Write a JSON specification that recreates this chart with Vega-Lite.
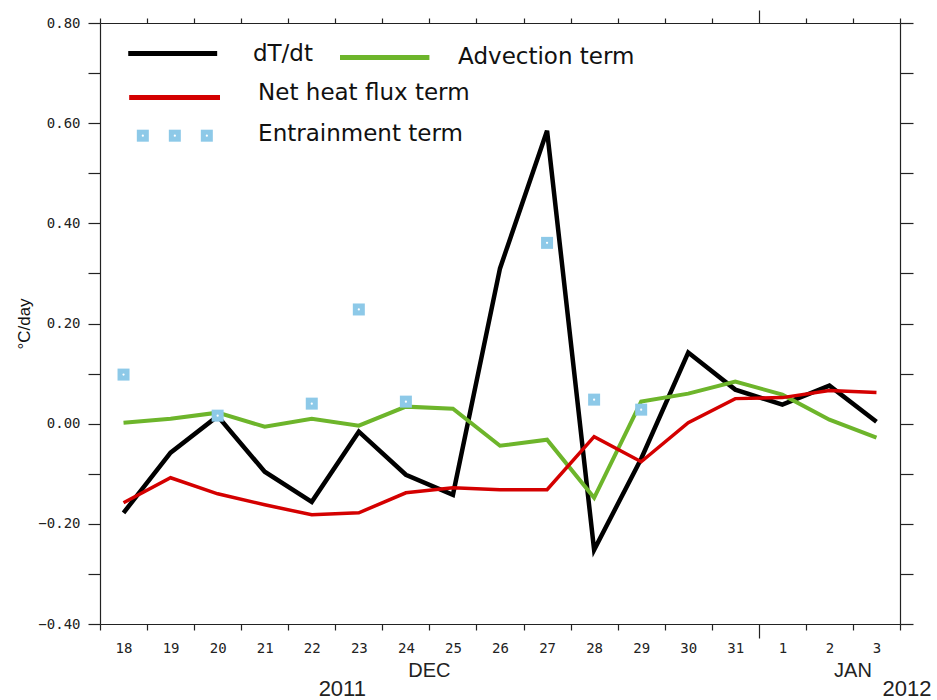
{
  "$schema": "https://vega.github.io/schema/vega-lite/v6.json",
  "width": 800,
  "height": 601,
  "autosize": "none",
  "padding": {"left": 100, "top": 23, "right": 37, "bottom": 76},
  "background": "white",
  "config": {
    "view": {"stroke": null},
    "axis": {"grid": false, "domainColor": "#222", "tickColor": "#222", "domainWidth": 1.2, "tickWidth": 1.2, "labelColor": "#222", "labelOverlap": false}
  },
  "datasets": {
    "terms": [
      {"day": "18", "series": "dT/dt", "value": -0.178},
      {"day": "19", "series": "dT/dt", "value": -0.058},
      {"day": "20", "series": "dT/dt", "value": 0.015},
      {"day": "21", "series": "dT/dt", "value": -0.096},
      {"day": "22", "series": "dT/dt", "value": -0.156},
      {"day": "23", "series": "dT/dt", "value": -0.016},
      {"day": "24", "series": "dT/dt", "value": -0.102},
      {"day": "25", "series": "dT/dt", "value": -0.142},
      {"day": "26", "series": "dT/dt", "value": 0.31},
      {"day": "27", "series": "dT/dt", "value": 0.585},
      {"day": "28", "series": "dT/dt", "value": -0.252},
      {"day": "29", "series": "dT/dt", "value": -0.07},
      {"day": "30", "series": "dT/dt", "value": 0.142},
      {"day": "31", "series": "dT/dt", "value": 0.068},
      {"day": "1", "series": "dT/dt", "value": 0.038},
      {"day": "2", "series": "dT/dt", "value": 0.076},
      {"day": "3", "series": "dT/dt", "value": 0.004},
      {"day": "18", "series": "Advection term", "value": 0.002},
      {"day": "19", "series": "Advection term", "value": 0.01},
      {"day": "20", "series": "Advection term", "value": 0.022},
      {"day": "21", "series": "Advection term", "value": -0.006},
      {"day": "22", "series": "Advection term", "value": 0.01},
      {"day": "23", "series": "Advection term", "value": -0.004},
      {"day": "24", "series": "Advection term", "value": 0.034},
      {"day": "25", "series": "Advection term", "value": 0.03},
      {"day": "26", "series": "Advection term", "value": -0.044},
      {"day": "27", "series": "Advection term", "value": -0.032},
      {"day": "28", "series": "Advection term", "value": -0.148},
      {"day": "29", "series": "Advection term", "value": 0.044},
      {"day": "30", "series": "Advection term", "value": 0.06},
      {"day": "31", "series": "Advection term", "value": 0.084},
      {"day": "1", "series": "Advection term", "value": 0.058},
      {"day": "2", "series": "Advection term", "value": 0.008},
      {"day": "3", "series": "Advection term", "value": -0.028},
      {"day": "18", "series": "Net heat flux term", "value": -0.158},
      {"day": "19", "series": "Net heat flux term", "value": -0.108},
      {"day": "20", "series": "Net heat flux term", "value": -0.14},
      {"day": "21", "series": "Net heat flux term", "value": -0.162},
      {"day": "22", "series": "Net heat flux term", "value": -0.182},
      {"day": "23", "series": "Net heat flux term", "value": -0.178},
      {"day": "24", "series": "Net heat flux term", "value": -0.138},
      {"day": "25", "series": "Net heat flux term", "value": -0.128},
      {"day": "26", "series": "Net heat flux term", "value": -0.132},
      {"day": "27", "series": "Net heat flux term", "value": -0.132},
      {"day": "28", "series": "Net heat flux term", "value": -0.026},
      {"day": "29", "series": "Net heat flux term", "value": -0.076},
      {"day": "30", "series": "Net heat flux term", "value": 0.002},
      {"day": "31", "series": "Net heat flux term", "value": 0.05},
      {"day": "1", "series": "Net heat flux term", "value": 0.052},
      {"day": "2", "series": "Net heat flux term", "value": 0.066},
      {"day": "3", "series": "Net heat flux term", "value": 0.062}
    ],
    "entrain": [
      {"day": "18", "value": 0.098},
      {"day": "20", "value": 0.016},
      {"day": "22", "value": 0.04},
      {"day": "23", "value": 0.228},
      {"day": "24", "value": 0.044},
      {"day": "27", "value": 0.361},
      {"day": "28", "value": 0.048},
      {"day": "29", "value": 0.028}
    ],
    "months": [
      {"label": "DEC", "day": "25"},
      {"label": "JAN", "day": "3"}
    ],
    "years": [
      {"label": "2011", "day": "22"},
      {"label": "2012", "day": "3"}
    ],
    "legendLines": [
      {"series": "dT/dt", "x": 0.6, "x2": 2.49, "y": 0.739},
      {"series": "Advection term", "x": 5.1, "x2": 7.0, "y": 0.731},
      {"series": "Net heat flux term", "x": 0.62, "x2": 2.55, "y": 0.651}
    ],
    "legendMarkers": [
      {"x": 0.91, "y": 0.575},
      {"x": 1.59, "y": 0.575},
      {"x": 2.27, "y": 0.575}
    ],
    "legendText": [
      {"label": "dT/dt", "x": 3.25, "y": 0.725},
      {"label": "Advection term", "x": 7.61, "y": 0.719},
      {"label": "Net heat flux term", "x": 3.36, "y": 0.647},
      {"label": "Entrainment term", "x": 3.36, "y": 0.565}
    ]
  },
  "layer": [
    {
      "layer": [
        {
          "data": {"name": "terms"},
          "mark": {"type": "line", "strokeJoin": "miter", "strokeCap": "butt"},
          "encoding": {
            "x": {
              "field": "day", "type": "ordinal", "bandPosition": 0.5,
              "scale": {"type": "band", "domain": ["18","19","20","21","22","23","24","25","26","27","28","29","30","31","1","2","3"], "paddingInner": 0, "paddingOuter": 0},
              "axis": {
                "orient": "bottom", "title": null, "tickBand": "extent", "labelAngle": 0,
                "tickSize": {"condition": {"test": "datum.value === '31'", "value": 14}, "value": 6},
                "labelPadding": {"condition": {"test": "datum.value === '31'", "value": 3}, "value": 11},
                "labelFont": "DejaVu Sans Mono", "labelFontSize": 14
              }
            },
            "y": {
              "field": "value", "type": "quantitative",
              "scale": {"domain": [-0.4, 0.8], "nice": false, "zero": false},
              "axis": {
                "orient": "left", "title": "°C/day",
                "values": [-0.4, -0.3, -0.2, -0.1, 0, 0.1, 0.2, 0.3, 0.4, 0.5, 0.6, 0.7, 0.8],
                "labelExpr": "abs(round(datum.value * 10)) % 2 === 0 ? format(datum.value, '.2f') : ''",
                "tickSize": 12, "labelPadding": 8,
                "labelFont": "DejaVu Sans Mono", "labelFontSize": 14,
                "titleFont": "Liberation Sans", "titleFontSize": 17, "titleFontWeight": "normal", "titleColor": "#111", "titlePadding": 4
              }
            },
            "color": {"field": "series", "type": "nominal", "scale": {"domain": ["dT/dt", "Advection term", "Net heat flux term"], "range": ["#000000", "#6db52b", "#d40000"]}, "legend": null},
            "strokeWidth": {"field": "series", "type": "nominal", "scale": {"domain": ["dT/dt", "Advection term", "Net heat flux term"], "range": [4.5, 3.5, 3.5]}, "legend": null}
          }
        },
        {
          "data": {"name": "entrain"},
          "mark": {"type": "point", "shape": "square", "filled": true, "size": 144, "color": "#8dc9e8", "opacity": 1},
          "encoding": {
            "x": {
              "field": "day", "type": "ordinal", "bandPosition": 0.5,
              "scale": {"type": "band", "domain": ["18","19","20","21","22","23","24","25","26","27","28","29","30","31","1","2","3"], "paddingInner": 0, "paddingOuter": 0},
              "axis": {
                "orient": "top", "title": null, "labels": false, "tickBand": "extent",
                "tickSize": {"condition": {"test": "datum.value === '31'", "value": 13}, "value": 5}
              }
            },
            "y": {
              "field": "value", "type": "quantitative",
              "scale": {"domain": [-0.4, 0.8], "nice": false, "zero": false},
              "axis": {
                "orient": "right", "title": null, "labels": false,
                "values": [-0.4, -0.3, -0.2, -0.1, 0, 0.1, 0.2, 0.3, 0.4, 0.5, 0.6, 0.7, 0.8],
                "tickSize": 13
              }
            }
          }
        },
        {
          "data": {"name": "entrain"},
          "mark": {"type": "point", "shape": "circle", "filled": true, "size": 5, "color": "white", "opacity": 1},
          "encoding": {
            "x": {"field": "day", "type": "ordinal", "bandPosition": 0.5, "scale": {"type": "band", "domain": ["18","19","20","21","22","23","24","25","26","27","28","29","30","31","1","2","3"], "paddingInner": 0, "paddingOuter": 0}, "axis": null},
            "y": {"field": "value", "type": "quantitative", "scale": {"domain": [-0.4, 0.8], "nice": false, "zero": false}, "axis": null}
          }
        },
        {
          "data": {"name": "months"},
          "mark": {"type": "text", "font": "Liberation Sans", "fontSize": 20, "color": "#222", "align": "center", "baseline": "alphabetic"},
          "encoding": {
            "x": {"field": "day", "type": "ordinal", "bandPosition": 0, "scale": {"type": "band", "domain": ["18","19","20","21","22","23","24","25","26","27","28","29","30","31","1","2","3"], "paddingInner": 0, "paddingOuter": 0}, "axis": null},
            "y": {"datum": -0.505, "type": "quantitative", "scale": {"domain": [-0.4, 0.8], "nice": false, "zero": false}, "axis": null},
            "text": {"field": "label"}
          }
        },
        {
          "data": {"name": "years"},
          "mark": {"type": "text", "font": "Liberation Sans", "fontSize": 22, "color": "#222", "align": "center", "baseline": "alphabetic", "dx": 7},
          "encoding": {
            "x": {"field": "day", "type": "ordinal", "bandPosition": 1, "scale": {"type": "band", "domain": ["18","19","20","21","22","23","24","25","26","27","28","29","30","31","1","2","3"], "paddingInner": 0, "paddingOuter": 0}, "axis": null},
            "y": {"datum": -0.543, "type": "quantitative", "scale": {"domain": [-0.4, 0.8], "nice": false, "zero": false}, "axis": null},
            "text": {"field": "label"}
          }
        }
      ],
      "resolve": {"axis": {"x": "independent", "y": "independent"}}
    },
    {
      "layer": [
        {
          "data": {"name": "legendLines"},
          "mark": {"type": "rule", "strokeWidth": 5, "strokeCap": "butt"},
          "encoding": {
            "x": {"field": "x", "type": "quantitative", "scale": {"domain": [0, 17], "nice": false, "zero": false}, "axis": null},
            "x2": {"field": "x2"},
            "y": {"field": "y", "type": "quantitative", "scale": {"domain": [-0.4, 0.8], "nice": false, "zero": false}, "axis": null},
            "color": {"field": "series", "type": "nominal", "scale": {"domain": ["dT/dt", "Advection term", "Net heat flux term"], "range": ["#000000", "#6db52b", "#d40000"]}, "legend": null}
          }
        },
        {
          "data": {"name": "legendMarkers"},
          "mark": {"type": "point", "shape": "square", "filled": true, "size": 144, "color": "#8dc9e8", "opacity": 1},
          "encoding": {
            "x": {"field": "x", "type": "quantitative", "scale": {"domain": [0, 17], "nice": false, "zero": false}, "axis": null},
            "y": {"field": "y", "type": "quantitative", "scale": {"domain": [-0.4, 0.8], "nice": false, "zero": false}, "axis": null}
          }
        },
        {
          "data": {"name": "legendMarkers"},
          "mark": {"type": "point", "shape": "circle", "filled": true, "size": 5, "color": "white", "opacity": 1},
          "encoding": {
            "x": {"field": "x", "type": "quantitative", "scale": {"domain": [0, 17], "nice": false, "zero": false}, "axis": null},
            "y": {"field": "y", "type": "quantitative", "scale": {"domain": [-0.4, 0.8], "nice": false, "zero": false}, "axis": null}
          }
        },
        {
          "data": {"name": "legendText"},
          "mark": {"type": "text", "font": "DejaVu Sans", "fontSize": 23, "color": "#111", "align": "left", "baseline": "alphabetic"},
          "encoding": {
            "x": {"field": "x", "type": "quantitative", "scale": {"domain": [0, 17], "nice": false, "zero": false}, "axis": null},
            "y": {"field": "y", "type": "quantitative", "scale": {"domain": [-0.4, 0.8], "nice": false, "zero": false}, "axis": null},
            "text": {"field": "label"}
          }
        }
      ]
    }
  ],
  "resolve": {"scale": {"x": "independent"}}
}
